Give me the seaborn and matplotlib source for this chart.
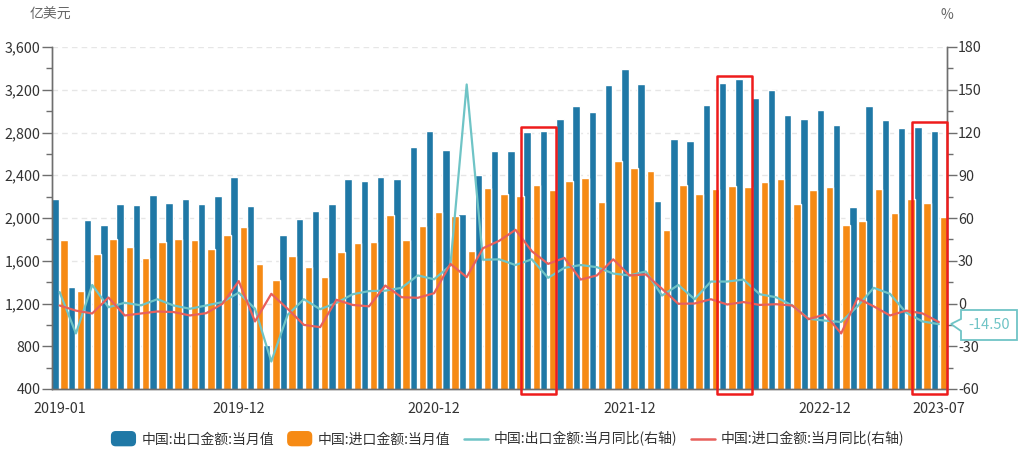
"""
China monthly exports / imports with YoY growth on the right axis.
Bars use the left axis, lines use the right axis.
"""

import matplotlib
matplotlib.use("Agg")
import matplotlib.pyplot as plt
from matplotlib.legend_handler import HandlerPatch
from matplotlib.lines import Line2D
from matplotlib.patches import FancyBboxPatch, Patch, Polygon, Rectangle
from matplotlib.ticker import FuncFormatter, MultipleLocator
import numpy as np
import pandas as pd
import seaborn as sns

# ─── Data ────────────────────────────────────────────────────

months = pd.date_range("2019-01", "2023-07", freq="MS").strftime("%Y-%m").tolist()

exports = [2175, 1350, 1980, 1935, 2135, 2125, 2215, 2145, 2180, 2130, 2210, 2385,
           2110, 810, 1845, 1995, 2065, 2130, 2365, 2346, 2387, 2362, 2667, 2817,
           2633, 2040, 2398, 2631, 2631, 2802, 2811, 2929, 3048, 2992, 3242, 3397,
           3251, 2159, 2739, 2720, 3054, 3260, 3298, 3126, 3197, 2963, 2929, 3010,
           2872, 2100, 3051, 2914, 2839, 2854, 2817]
imports = [1794, 1320, 1666, 1803, 1726, 1626, 1775, 1800, 1790, 1706, 1841, 1913,
           1566, 1420, 1647, 1544, 1448, 1680, 1764, 1773, 2031, 1790, 1925, 2059,
           2019, 1691, 2285, 2223, 2204, 2309, 2262, 2349, 2371, 2146, 2530, 2465,
           2442, 1890, 2306, 2223, 2276, 2301, 2292, 2336, 2367, 2127, 2258, 2286,
           1934, 1974, 2268, 2046, 2175, 2143, 2008]
exports_yoy = [8, -21, 13, -2.6, 0.5, -1.3, 3, -1.4, -3.7, -1.4, 1, 7.6,
               -3.7, -40.7, -8, 3, -4, 0.4, 6.5, 8.7, 9, 11, 19.7, 17,
               26.7, 153.7, 30.7, 31, 27, 31, 18, 25, 27, 25.5, 21, 19.7,
               22.5, 5.6, 13, 3, 15.4, 15.4, 16.8, 6.5, 4.4, -1.4, -10.7, -12,
               -13, -2, 11, 6.8, -6.5, -12.6, -14.5]
imports_yoy = [-1.4, -5, -7, 4.2, -8.4, -7, -5.6, -6, -8.4, -6.8, -0.2, 15.7,
               -12.6, 6.8, -3.7, -15, -16.6, 2.6, -1, -2, 12.6, 4.4, 4, 7.2,
               27.8, 18.5, 38.8, 44, 51.7, 36.7, 27.8, 32, 16.8, 19.7, 31, 19.7,
               20.4, 10.3, -0.2, 0, 3, -0.7, 1, -1, -0.5, -1.4, -11, -7.7,
               -21, 3.7, -2, -8.4, -5, -7, -13]

series_names = ["中国:出口金额:当月值", "中国:进口金额:当月值",
                "中国:出口金额:当月同比(右轴)", "中国:进口金额:当月同比(右轴)"]

label_idx = [0, 11, 23, 35, 47, 54]
minor_idx = [2, 5, 8, 14, 17, 20, 26, 29, 32, 38, 41, 44, 50]

# first month, last month and top of each red box
highlights = [(29, 30, 2854), (41, 42, 3329), (53, 54, 2895)]

# ─── Style ───────────────────────────────────────────────────

BLUE = "#1f78a6"
ORANGE = "#f68a14"
TEAL = "#6fc4c6"
RED = "#e8605c"
AXIS = "#6e6e6e"
TEXT = "#333333"
GREY = "#666666"

sns.set_theme(style="white")
plt.rcParams["font.family"] = ["Noto Sans CJK SC", "DejaVu Sans"]
plt.rcParams["axes.unicode_minus"] = False

W, H = 1023, 450
fig = plt.figure(figsize=(W / 100, H / 100), dpi=100)
ax = fig.add_axes([51.5 / W, 1 - 389 / H, 895.5 / W, 342 / H])

# ─── Bars ────────────────────────────────────────────────────

bars = pd.DataFrame({
    "month": months * 2,
    "value": exports + imports,
    "series": [series_names[0]] * len(months) + [series_names[1]] * len(months),
})
# seaborn takes 0.8 of width for the dodged group
sns.barplot(data=bars, x="month", y="value", hue="series", order=months,
            hue_order=series_names[:2], palette=[BLUE, ORANGE], saturation=1,
            width=1.125, gap=0.18, legend=False, ax=ax, zorder=2)

ax.set_xlim(-0.5, 54.5)
ax.set_ylim(400, 3600)
ax.set_xlabel("")
ax.set_ylabel("")
ax.yaxis.set_major_locator(MultipleLocator(400))
ax.yaxis.set_minor_locator(MultipleLocator(200))
ax.yaxis.set_major_formatter(FuncFormatter(lambda v, _: f"{int(v):,}"))
ax.set_xticks(label_idx, [months[i] for i in label_idx])
ax.set_xticks(minor_idx, minor=True)
ax.grid(axis="y", which="major", color="#e6e6e6", linestyle=(0, (4, 3)), linewidth=1)
ax.set_axisbelow(True)

# ─── Lines ───────────────────────────────────────────────────

ax2 = ax.twinx()
x_pos = np.arange(len(months))
sns.lineplot(x=x_pos, y=exports_yoy, color=TEAL, linewidth=1.6, ax=ax2, zorder=3)
sns.lineplot(x=x_pos, y=imports_yoy, color=RED, linewidth=1.6, ax=ax2, zorder=4)
ax2.set_ylim(-60, 180)
ax2.yaxis.set_major_locator(MultipleLocator(30))
ax2.yaxis.set_minor_locator(MultipleLocator(15))
ax2.set_ylabel("")
ax2.grid(False)

for a in (ax, ax2):
    a.spines["top"].set_visible(False)
    for side in ("left", "right", "bottom"):
        a.spines[side].set_color(AXIS)
        a.spines[side].set_linewidth(1)
    a.tick_params(axis="both", which="major", length=7, width=1, color=AXIS,
                  labelcolor=TEXT, labelsize=10.3, pad=1, left=a is ax, right=a is ax2)
    a.tick_params(axis="both", which="minor", length=4.5, width=1, color=AXIS,
                  left=a is ax, right=a is ax2)
ax.tick_params(axis="x", which="major", length=6.5, pad=3)
ax.tick_params(axis="x", which="minor", length=2.5)

# Red boxes around the highlighted months
for start, end, top in highlights:
    ax2.add_patch(Rectangle((start - 0.65, 353), end - start + 1.15, top - 353,
                            transform=ax.transData, fill=False, edgecolor="#ee1c1c",
                            linewidth=1.8, joinstyle="round", clip_on=False, zorder=6))

# ─── Overlay in pixels: units, tooltip ───────────────────────

overlay = fig.add_axes([0, 0, 1, 1], zorder=10)
overlay.set_xlim(0, W)
overlay.set_ylim(H, 0)
overlay.set_axis_off()

overlay.text(30, 15, "亿美元", color=GREY, fontsize=10, va="center", ha="left")
overlay.text(947, 15, "%", color=GREY, fontsize=10, va="center", ha="center")

overlay.add_patch(Polygon([(951, 324), (961, 319), (961, 310), (1017, 310), (1017, 340),
                           (961, 340), (961, 331)],
                          closed=True, facecolor="white", edgecolor=TEAL, linewidth=1.3))
overlay.text(989, 325, f"{exports_yoy[-1]:.2f}", color=TEAL, fontsize=10.5, ha="center", va="center")

# ─── Legend ──────────────────────────────────────────────────


def rounded_handle(legend, orig_handle, xdescent, ydescent, width, height, fontsize):
    return FancyBboxPatch((-xdescent, -ydescent - 1.5), width, height + 3,
                          boxstyle="round,pad=0,rounding_size=3")


handles = [Patch(color=BLUE), Patch(color=ORANGE),
           Line2D([], [], color=TEAL, linewidth=1.8),
           Line2D([], [], color=RED, linewidth=1.8)]
fig.legend(handles, series_names, ncol=4, loc="center", bbox_to_anchor=(508 / W, 1 - 439 / H),
           frameon=False, fontsize=10, labelcolor=TEXT, handlelength=1.71, handleheight=0.7,
           handletextpad=0.43, columnspacing=1.0, borderpad=0,
           handler_map={Patch: HandlerPatch(patch_func=rounded_handle)})

fig.savefig("out.png", dpi=100)
